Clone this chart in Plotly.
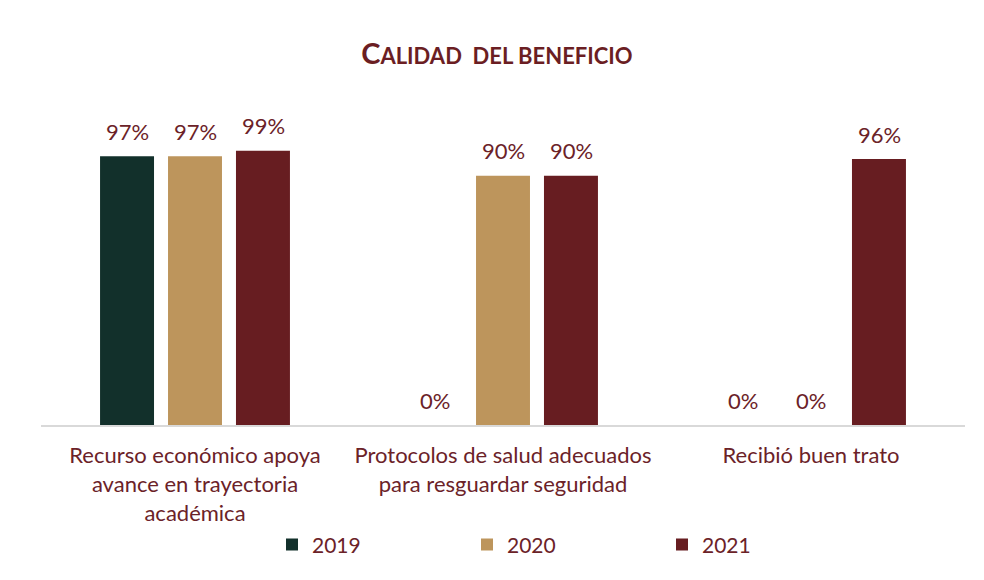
import plotly.graph_objects as go

categories = ["Recurso económico apoya<br>avance en trayectoria<br>académica",
              "Protocolos de salud adecuados<br>para resguardar seguridad",
              "Recibió buen trato"]
years = ["2019", "2020", "2021"]
values_2019 = [97, 0, 0]
values_2020 = [97, 90, 0]
values_2021 = [99, 90, 96]
series = {"2019": values_2019, "2020": values_2020, "2021": values_2021}
colors = {"2019": "#12302B", "2020": "#BD955C", "2021": "#671D21"}
text_color = "#6B2228"
font_family = "Lato, 'Noto Sans', sans-serif"

fig = go.Figure()
for y in years:
    fig.add_trace(go.Bar(name=y, x=categories, y=series[y], marker_color=colors[y],
                         marker_line_width=0))

offsets = {"2019": -68, "2020": 0, "2021": 68}
for y in years:
    for c, v in zip(categories, series[y]):
        fig.add_annotation(x=c, y=v, xref="x", yref="y", text=f"{v}%",
                           showarrow=False, xshift=offsets[y], yshift=25,
                           font=dict(size=22, color=text_color, family=font_family))

fig.update_layout(
    width=984, height=580,
    paper_bgcolor="white", plot_bgcolor="white",
    margin=dict(l=41, r=19, t=100, b=155),
    barmode="group", bargap=0.338, bargroupgap=0.206,
    title=dict(text="<b>C<span style='font-size:22px'>ALIDAD  DEL BENEFICIO</span></b>",
               x=0.505, xanchor="center", y=0.908, yanchor="middle",
               font=dict(size=29, color="#6B1E23", family=font_family)),
    xaxis=dict(showline=True, linecolor="#D9D9D9", linewidth=2, ticks="",
               ticklabelstandoff=10,
               tickfont=dict(size=22, color=text_color, family=font_family),
               showgrid=False),
    yaxis=dict(range=[0, 117.3], visible=False, showgrid=False, zeroline=False),
    legend=dict(orientation="h", x=0.25, xanchor="left", y=-0.369, yanchor="middle",
                entrywidth=150, font=dict(size=21, color=text_color, family=font_family)),
)
fig.write_html("out.html", config={"displayModeBar": False},
               post_script="document.body.style.margin='0px';")
